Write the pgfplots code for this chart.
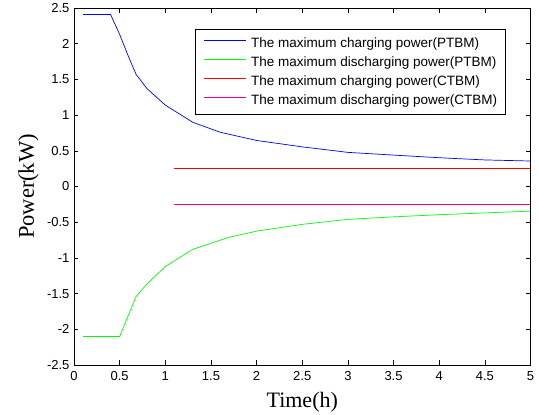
\documentclass[border=0pt]{standalone}
\usepackage{fontspec}
\setmainfont{Liberation Sans}
\newfontfamily\timesfont{Liberation Serif}
\usepackage{pgfplots}
\pgfplotsset{compat=1.18}

\begin{document}
\begin{tikzpicture}
\begin{axis}[
    at={(74pt,50pt)}, anchor=south west,
    scale only axis,
    width=456.5pt, height=357pt,
    xmin=0, xmax=5, ymin=-2.5, ymax=2.5,
    xtick={0,0.5,...,5}, ytick={-2.5,-2,...,2.5},
    tick align=inside, tick pos=both,
    major tick length=4.5pt,
    every tick/.style={black, line width=0.6pt},
    axis line style={black, line width=0.8pt},
    tick label style={font=\fontsize{13}{15}\selectfont},
    /pgf/number format/assume math mode=true,
    /pgf/number format/fixed,
    xticklabel style={yshift=-3pt},
    yticklabel style={xshift=-1pt},
    xlabel={\timesfont Time(h)},
    ylabel={\timesfont Power(kW)},
    xlabel style={font=\fontsize{22}{24}\selectfont, at={(axis description cs:0.5,0)}, anchor=base, yshift=-43pt},
    ylabel style={font=\fontsize{22.5}{24}\selectfont, at={(axis description cs:0,0.5)}, anchor=base, yshift=40pt},
    legend style={
        at={(1,1)}, anchor=north east, xshift=-24.5pt, yshift=-21.3pt,
        draw=black, line width=0.6pt,
        font=\fontsize{13.5}{15}\selectfont,
        inner xsep=8.5pt, inner ysep=7.5pt,
        row sep=6pt, column sep=5pt,
        cells={anchor=west},
        nodes={inner sep=0pt, text height=10pt, text depth=3pt},
    },
    legend image code/.code={\draw[#1] (0pt,3.5pt) -- (42pt,3.5pt);},
    legend cell align=left,
]
\addplot[blue, line width=0.7pt] coordinates {
    (0.1,2.41) (0.4,2.41) (0.5,2.13) (0.59,1.84) (0.68,1.57) (0.8,1.37)
    (1.0,1.14) (1.3,0.90) (1.6,0.76) (2.0,0.645) (2.5,0.555) (3.0,0.478)
    (3.5,0.44) (4.0,0.403) (4.5,0.372) (5.0,0.357)
};
\addlegendentry{The maximum charging power(PTBM)}
\addplot[green, line width=0.7pt] coordinates {
    (0.1,-2.1) (0.5,-2.1) (0.68,-1.54) (0.8,-1.364) (1.0,-1.12) (1.3,-0.88)
    (1.7,-0.71) (2.0,-0.625) (2.5,-0.53) (3.0,-0.46) (3.5,-0.425)
    (4.0,-0.395) (4.5,-0.37) (5.0,-0.345)
};
\addlegendentry{The maximum discharging power(PTBM)}
\addplot[red, line width=0.7pt] coordinates {(1.1,0.25) (5,0.25)};
\addlegendentry{The maximum charging power(CTBM)}
\addplot[magenta, line width=0.7pt] coordinates {(1.1,-0.25) (5,-0.25)};
\addlegendentry{The maximum discharging power(CTBM)}
\end{axis}
\pgfresetboundingbox
\path (0,0) rectangle (539pt,415pt);
\end{tikzpicture}
\end{document}
